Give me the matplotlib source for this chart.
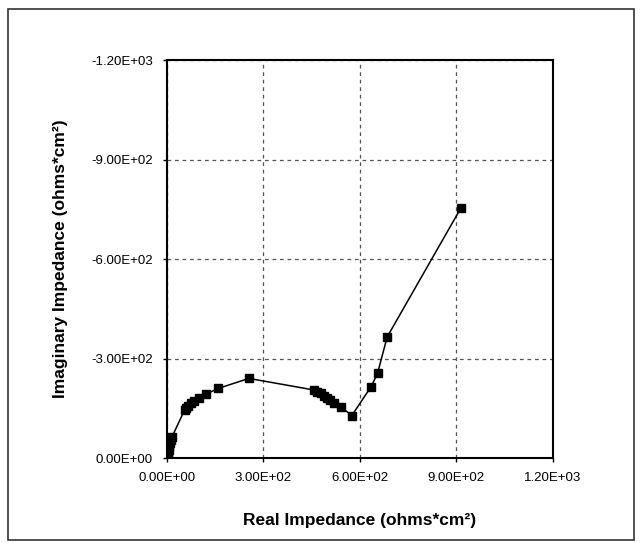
import matplotlib
matplotlib.use("Agg")
import matplotlib.pyplot as plt
from matplotlib.patches import Rectangle
from matplotlib.ticker import FixedLocator, FormatStrFormatter

plt.rcParams["font.family"] = ["Liberation Sans", "DejaVu Sans"]

# Nyquist data: real part and imaginary part (ohms*cm^2)
z_real = [3, 4, 5, 7, 9, 12, 15,
          55, 60, 65, 75, 85, 100, 120, 160, 255,
          458, 468, 478, 488, 498, 508, 520, 540, 575,
          635, 655, 685, 915]
z_imag = [-5, -15, -25, -35, -45, -55, -62,
          -145, -150, -157, -165, -172, -180, -192, -210, -240,
          -205, -200, -195, -188, -181, -174, -166, -155, -128,
          -215, -255, -365, -755]

ticks = [0, 300, 600, 900, 1200]
y_ticks = [0, -300, -600, -900, -1200]

fig = plt.figure(figsize=(6.42, 5.43), dpi=100)
ax = fig.add_axes([0.260, 0.1565, 0.601, 0.733])

ax.plot(z_real, z_imag, color="black", lw=1.1, marker="s", ms=5.5,
        mfc="black", mec="black", zorder=3)

ax.set_xlim(0, 1200)
ax.set_ylim(0, -1200)
ax.xaxis.set_major_locator(FixedLocator(ticks))
ax.yaxis.set_major_locator(FixedLocator(y_ticks))
ax.xaxis.set_major_formatter(FormatStrFormatter("%.2E"))
ax.yaxis.set_major_formatter(FormatStrFormatter("%.2E"))
ax.tick_params(length=3, width=1, labelsize=9.5, pad=7, color="black")

ax.grid(True, ls=(0, (3, 3)), color="#555555", lw=0.9)
for s in ax.spines.values():
    s.set_linewidth(1.5)
    s.set_color("black")

ax.set_xlabel("Real Impedance (ohms*cm²)", fontsize=12.5, fontweight="bold",
              labelpad=21)
ax.set_ylabel("Imaginary Impedance (ohms*cm²)", fontsize=12.5,
              fontweight="bold", labelpad=17)

# outer frame around the chart area
fig.patches.append(Rectangle((8 / 642, 3 / 543), 626 / 642, 531 / 543,
                             transform=fig.transFigure, fill=False,
                             ec="#333333", lw=1.2))

fig.savefig("out.png", dpi=100)
